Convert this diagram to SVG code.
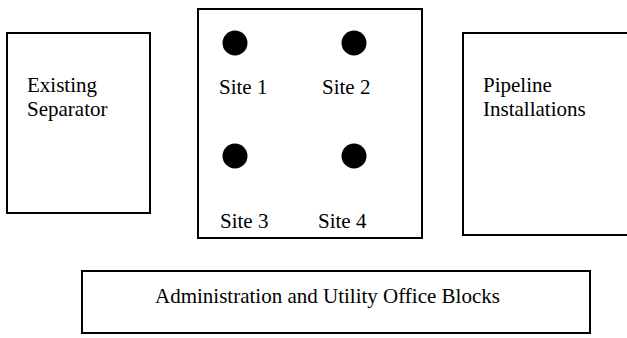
<svg xmlns="http://www.w3.org/2000/svg" width="627" height="338" viewBox="0 0 627 338">
<style>
.box{fill:#fff;stroke:#000;stroke-width:2}
.t{font-family:"Liberation Serif","Times New Roman",serif;font-size:21px;fill:#000}
.dot{fill:#000}
</style>
<rect width="627" height="338" fill="#fff"/>
<g id="existing-separator">
<rect class="box" x="7" y="33" width="143" height="180"/>
<text class="t" x="27" y="92">Existing</text>
<text class="t" x="27" y="116">Separator</text>
</g>
<g id="sites">
<rect class="box" x="198" y="9" width="224" height="229"/>
<circle class="dot" cx="235" cy="43" r="12.5"/>
<circle class="dot" cx="354" cy="43" r="12.5"/>
<circle class="dot" cx="235" cy="156" r="12.5"/>
<circle class="dot" cx="354" cy="156" r="12.5"/>
<text class="t" x="219" y="94">Site 1</text>
<text class="t" x="322" y="94">Site 2</text>
<text class="t" x="220" y="228">Site 3</text>
<text class="t" x="318" y="228">Site 4</text>
</g>
<g id="pipeline-installations">
<rect class="box" x="463" y="33" width="170" height="202"/>
<text class="t" x="483" y="92">Pipeline</text>
<text class="t" x="483" y="116">Installations</text>
</g>
<g id="admin-blocks">
<rect class="box" x="82" y="271" width="508" height="62"/>
<text class="t" x="155" y="303">Administration and Utility Office Blocks</text>
</g>
<g id="connectors"></g>
</svg>
